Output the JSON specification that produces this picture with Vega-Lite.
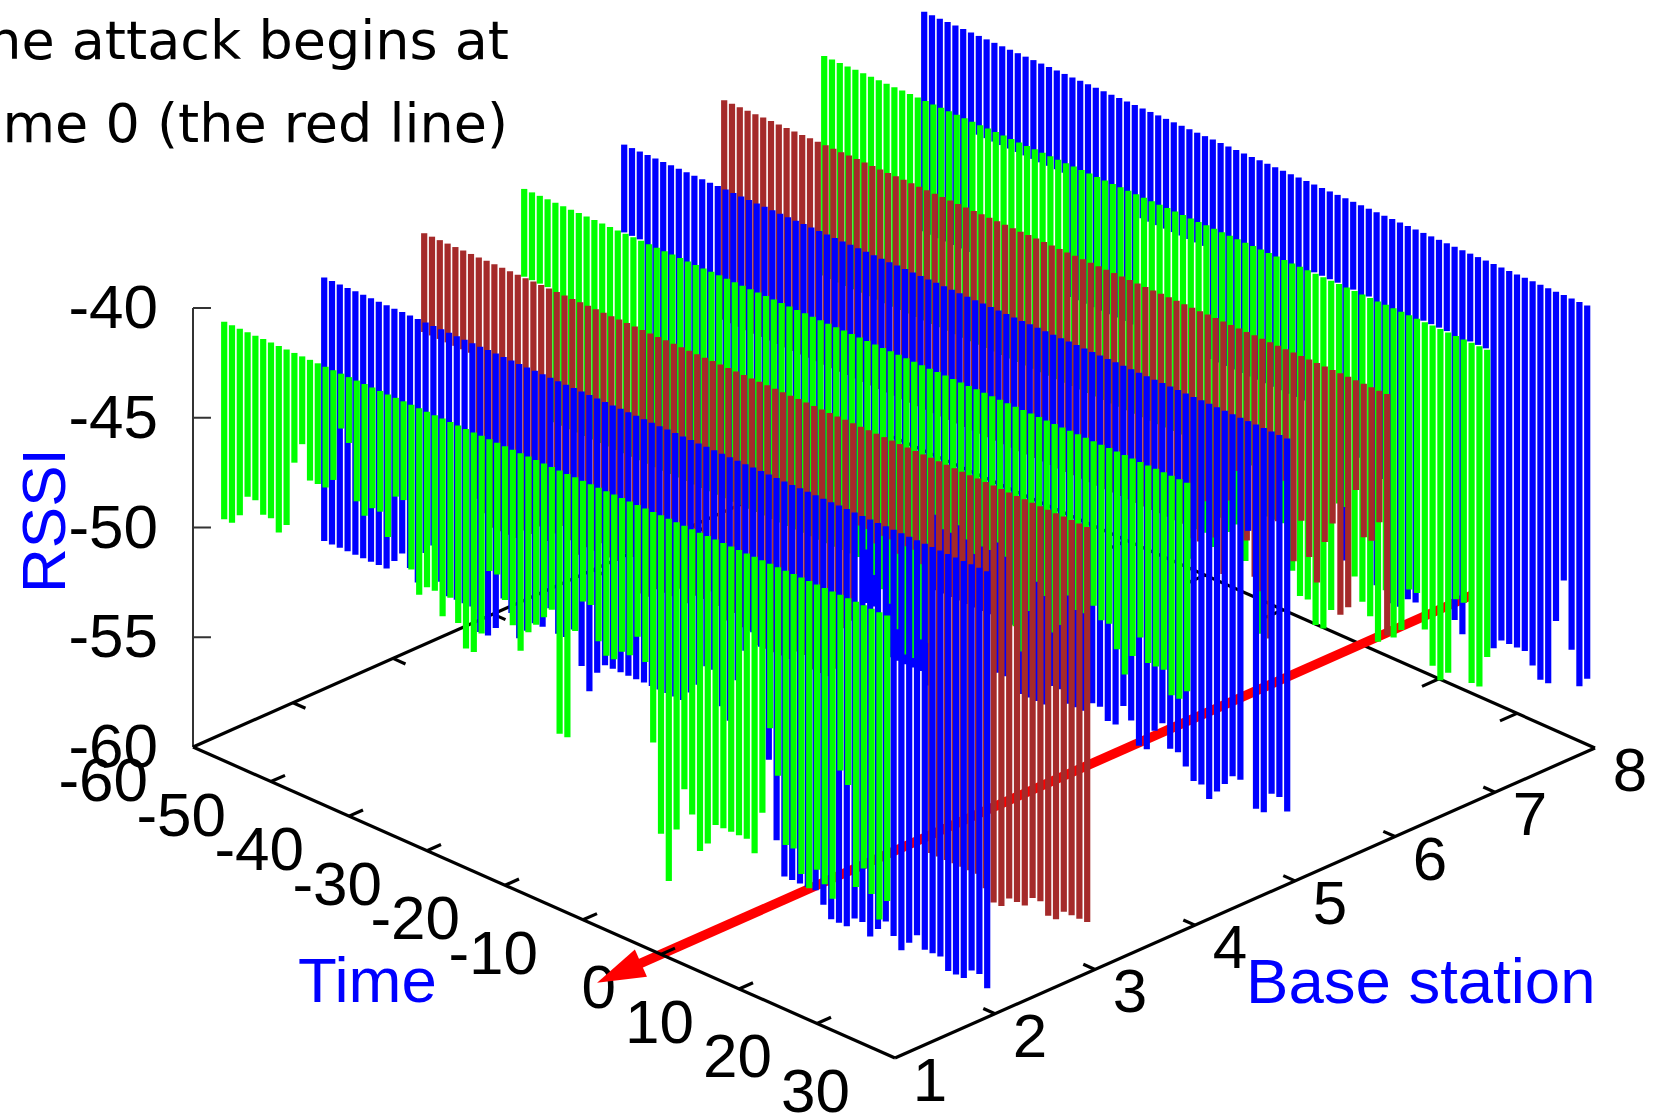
{"$schema":"https://vega.github.io/schema/vega-lite/v6.json","width":1654,"height":1116,"autosize":"none","padding":0,"background":"white","config":{"view":{"stroke":null}},
"datasets":{
"frame":[
{"part":"z","time":-60,"station":1,"rssi":-60,"time2":-60,"station2":1,"rssi2":-40},
{"part":"z","time":-60,"station":1,"rssi":-40,"time2":-58.85,"station2":1.09,"rssi2":-40},
{"part":"z","time":-60,"station":1,"rssi":-45,"time2":-58.85,"station2":1.09,"rssi2":-45},
{"part":"z","time":-60,"station":1,"rssi":-50,"time2":-58.85,"station2":1.09,"rssi2":-50},
{"part":"z","time":-60,"station":1,"rssi":-55,"time2":-58.85,"station2":1.09,"rssi2":-55},
{"part":"back","time":-60,"station":1,"rssi":-60,"time2":-60,"station2":8,"rssi2":-60},
{"part":"back","time":-60,"station":8,"rssi":-60,"time2":30,"station2":8,"rssi2":-60},
{"part":"backtick","time":-60,"station":2,"rssi":-60,"time2":-58.4,"station2":2,"rssi2":-60},
{"part":"backtick","time":-60,"station":3,"rssi":-60,"time2":-58.4,"station2":3,"rssi2":-60},
{"part":"backtick","time":-60,"station":4,"rssi":-60,"time2":-58.4,"station2":4,"rssi2":-60},
{"part":"backtick","time":-60,"station":5,"rssi":-60,"time2":-58.4,"station2":5,"rssi2":-60},
{"part":"backtick","time":-60,"station":6,"rssi":-60,"time2":-58.4,"station2":6,"rssi2":-60},
{"part":"backtick","time":-60,"station":7,"rssi":-60,"time2":-58.4,"station2":7,"rssi2":-60},
{"part":"backtick","time":-50,"station":8,"rssi":-60,"time2":-50,"station2":7.83,"rssi2":-60},
{"part":"backtick","time":-40,"station":8,"rssi":-60,"time2":-40,"station2":7.83,"rssi2":-60},
{"part":"backtick","time":-30,"station":8,"rssi":-60,"time2":-30,"station2":7.83,"rssi2":-60},
{"part":"backtick","time":-20,"station":8,"rssi":-60,"time2":-20,"station2":7.83,"rssi2":-60},
{"part":"backtick","time":-10,"station":8,"rssi":-60,"time2":-10,"station2":7.83,"rssi2":-60},
{"part":"backtick","time":0,"station":8,"rssi":-60,"time2":0,"station2":7.83,"rssi2":-60},
{"part":"backtick","time":10,"station":8,"rssi":-60,"time2":10,"station2":7.83,"rssi2":-60},
{"part":"backtick","time":20,"station":8,"rssi":-60,"time2":20,"station2":7.83,"rssi2":-60},
{"part":"front","time":-60,"station":1,"rssi":-60,"time2":30,"station2":1,"rssi2":-60},
{"part":"front","time":30,"station":1,"rssi":-60,"time2":30,"station2":8,"rssi2":-60},
{"part":"fronttick","time":-50,"station":1,"rssi":-60,"time2":-50,"station2":1.14,"rssi2":-60},
{"part":"fronttick","time":-40,"station":1,"rssi":-60,"time2":-40,"station2":1.14,"rssi2":-60},
{"part":"fronttick","time":-30,"station":1,"rssi":-60,"time2":-30,"station2":1.14,"rssi2":-60},
{"part":"fronttick","time":-20,"station":1,"rssi":-60,"time2":-20,"station2":1.14,"rssi2":-60},
{"part":"fronttick","time":-10,"station":1,"rssi":-60,"time2":-10,"station2":1.14,"rssi2":-60},
{"part":"fronttick","time":0,"station":1,"rssi":-60,"time2":0,"station2":1.14,"rssi2":-60},
{"part":"fronttick","time":10,"station":1,"rssi":-60,"time2":10,"station2":1.14,"rssi2":-60},
{"part":"fronttick","time":20,"station":1,"rssi":-60,"time2":20,"station2":1.14,"rssi2":-60},
{"part":"fronttick","time":30,"station":2,"rssi":-60,"time2":28.5,"station2":2,"rssi2":-60},
{"part":"fronttick","time":30,"station":3,"rssi":-60,"time2":28.5,"station2":3,"rssi2":-60},
{"part":"fronttick","time":30,"station":4,"rssi":-60,"time2":28.5,"station2":4,"rssi2":-60},
{"part":"fronttick","time":30,"station":5,"rssi":-60,"time2":28.5,"station2":5,"rssi2":-60},
{"part":"fronttick","time":30,"station":6,"rssi":-60,"time2":28.5,"station2":6,"rssi2":-60},
{"part":"fronttick","time":30,"station":7,"rssi":-60,"time2":28.5,"station2":7,"rssi2":-60}
],
"attack":[{"time":0,"station":0.58,"rssi":-60,"time2":0,"station2":9.1,"rssi2":-60}],
"ticks":[
{"axis":"z","label":"-40","time":-60,"station":1,"rssi":-40},{"axis":"z","label":"-45","time":-60,"station":1,"rssi":-45},{"axis":"z","label":"-50","time":-60,"station":1,"rssi":-50},{"axis":"z","label":"-55","time":-60,"station":1,"rssi":-55},{"axis":"z","label":"-60","time":-60,"station":1,"rssi":-60},
{"axis":"t","label":"-60","time":-60,"station":1,"rssi":-60},{"axis":"t","label":"-50","time":-50,"station":1,"rssi":-60},{"axis":"t","label":"-40","time":-40,"station":1,"rssi":-60},{"axis":"t","label":"-30","time":-30,"station":1,"rssi":-60},{"axis":"t","label":"-20","time":-20,"station":1,"rssi":-60},{"axis":"t","label":"-10","time":-10,"station":1,"rssi":-60},{"axis":"t","label":"0","time":0,"station":1,"rssi":-60},{"axis":"t","label":"10","time":10,"station":1,"rssi":-60},{"axis":"t","label":"20","time":20,"station":1,"rssi":-60},{"axis":"t","label":"30","time":30,"station":1,"rssi":-60},
{"axis":"s","label":"1","time":30,"station":1,"rssi":-60},{"axis":"s","label":"2","time":30,"station":2,"rssi":-60},{"axis":"s","label":"3","time":30,"station":3,"rssi":-60},{"axis":"s","label":"4","time":30,"station":4,"rssi":-60},{"axis":"s","label":"5","time":30,"station":5,"rssi":-60},{"axis":"s","label":"6","time":30,"station":6,"rssi":-60},{"axis":"s","label":"7","time":30,"station":7,"rssi":-60},{"axis":"s","label":"8","time":30,"station":8,"rssi":-60}
],
"titles":[{"label":"Time","time":-16.24,"station":-1.343,"rssi":-60},{"label":"Base station","time":44.67,"station":3.386,"rssi":-60}],
"ytitle":[{"label":"RSSI","time":-60,"station":-0.28,"rssi":-47.1}],
"notes":[{"label":"The attack begins at","time":-60,"station":4.16,"rssi":-35.03},{"label":"time 0 (the red line)","time":-60,"station":4.15,"rssi":-38.8}],
"bars":[
{"station":8,"time":-56,"rssi":-50},{"station":8,"time":-55,"rssi":-50},{"station":8,"time":-54,"rssi":-50},{"station":8,"time":-53,"rssi":-50},{"station":8,"time":-52,"rssi":-50},{"station":8,"time":-51,"rssi":-50},{"station":8,"time":-50,"rssi":-50},{"station":8,"time":-49,"rssi":-44.5},{"station":8,"time":-48,"rssi":-44.5},{"station":8,"time":-47,"rssi":-44.5},{"station":8,"time":-46,"rssi":-44.5},{"station":8,"time":-45,"rssi":-44.5},{"station":8,"time":-44,"rssi":-44.5},{"station":8,"time":-43,"rssi":-44.5},{"station":8,"time":-42,"rssi":-44.5},{"station":8,"time":-41,"rssi":-44.5},{"station":8,"time":-40,"rssi":-44.5},{"station":8,"time":-39,"rssi":-44.5},{"station":8,"time":-38,"rssi":-44.5},{"station":8,"time":-37,"rssi":-50},{"station":8,"time":-36,"rssi":-50},{"station":8,"time":-35,"rssi":-50},{"station":8,"time":-34,"rssi":-50},{"station":8,"time":-33,"rssi":-50},{"station":8,"time":-32,"rssi":-50},{"station":8,"time":-31,"rssi":-50},{"station":8,"time":-30,"rssi":-50},{"station":8,"time":-29,"rssi":-50},{"station":8,"time":-28,"rssi":-45},{"station":8,"time":-27,"rssi":-45},{"station":8,"time":-26,"rssi":-45},{"station":8,"time":-25,"rssi":-45},{"station":8,"time":-24,"rssi":-45},{"station":8,"time":-23,"rssi":-45},{"station":8,"time":-22,"rssi":-45},{"station":8,"time":-21,"rssi":-45},{"station":8,"time":-20,"rssi":-45},{"station":8,"time":-19,"rssi":-50},{"station":8,"time":-18,"rssi":-50},{"station":8,"time":-17,"rssi":-50},{"station":8,"time":-16,"rssi":-50},{"station":8,"time":-15,"rssi":-50},{"station":8,"time":-14,"rssi":-50},{"station":8,"time":-13,"rssi":-50},{"station":8,"time":-12,"rssi":-50},{"station":8,"time":-11,"rssi":-50},{"station":8,"time":-10,"rssi":-50},{"station":8,"time":-9,"rssi":-50},{"station":8,"time":-8,"rssi":-50},{"station":8,"time":-7,"rssi":-50},{"station":8,"time":-6,"rssi":-44},{"station":8,"time":-5,"rssi":-44},{"station":8,"time":-4,"rssi":-44},{"station":8,"time":-3,"rssi":-44},{"station":8,"time":-2,"rssi":-56.5},{"station":8,"time":-1,"rssi":-44},{"station":8,"time":0,"rssi":-51.5},{"station":8,"time":1,"rssi":-44},{"station":8,"time":2,"rssi":-57},{"station":8,"time":3,"rssi":-52},{"station":8,"time":4,"rssi":-57.5},{"station":8,"time":5,"rssi":-57.5},{"station":8,"time":6,"rssi":-57},{"station":8,"time":7,"rssi":-57},{"station":8,"time":8,"rssi":-44},{"station":8,"time":9,"rssi":-44},{"station":8,"time":10,"rssi":-44},{"station":8,"time":11,"rssi":-44},{"station":8,"time":12,"rssi":-57},{"station":8,"time":13,"rssi":-57.5},{"station":8,"time":14,"rssi":-44},{"station":8,"time":15,"rssi":-44},{"station":8,"time":16,"rssi":-44},{"station":8,"time":17,"rssi":-57.5},{"station":8,"time":18,"rssi":-57},{"station":8,"time":19,"rssi":-57},{"station":8,"time":20,"rssi":-57},{"station":8,"time":21,"rssi":-57},{"station":8,"time":22,"rssi":-57.5},{"station":8,"time":23,"rssi":-58},{"station":8,"time":24,"rssi":-58},{"station":8,"time":25,"rssi":-55},{"station":8,"time":26,"rssi":-53},{"station":8,"time":27,"rssi":-56},{"station":8,"time":28,"rssi":-57.5},{"station":8,"time":29,"rssi":-57},
{"station":7,"time":-56,"rssi":-50},{"station":7,"time":-55,"rssi":-50},{"station":7,"time":-54,"rssi":-50},{"station":7,"time":-53,"rssi":-50},{"station":7,"time":-52,"rssi":-50},{"station":7,"time":-51,"rssi":-50},{"station":7,"time":-50,"rssi":-50},{"station":7,"time":-49,"rssi":-50},{"station":7,"time":-48,"rssi":-50},{"station":7,"time":-47,"rssi":-50},{"station":7,"time":-46,"rssi":-50},{"station":7,"time":-45,"rssi":-50},{"station":7,"time":-44,"rssi":-50},{"station":7,"time":-43,"rssi":-50},{"station":7,"time":-42,"rssi":-50},{"station":7,"time":-41,"rssi":-50},{"station":7,"time":-40,"rssi":-50},{"station":7,"time":-39,"rssi":-50},{"station":7,"time":-38,"rssi":-50},{"station":7,"time":-37,"rssi":-50},{"station":7,"time":-36,"rssi":-50},{"station":7,"time":-35,"rssi":-50},{"station":7,"time":-34,"rssi":-50},{"station":7,"time":-33,"rssi":-50},{"station":7,"time":-32,"rssi":-50},{"station":7,"time":-31,"rssi":-50},{"station":7,"time":-30,"rssi":-50},{"station":7,"time":-29,"rssi":-50},{"station":7,"time":-28,"rssi":-50},{"station":7,"time":-27,"rssi":-50},{"station":7,"time":-26,"rssi":-50},{"station":7,"time":-25,"rssi":-50},{"station":7,"time":-24,"rssi":-50},{"station":7,"time":-23,"rssi":-50},{"station":7,"time":-22,"rssi":-50},{"station":7,"time":-21,"rssi":-50},{"station":7,"time":-20,"rssi":-50},{"station":7,"time":-19,"rssi":-50},{"station":7,"time":-18,"rssi":-50},{"station":7,"time":-17,"rssi":-50},{"station":7,"time":-16,"rssi":-50},{"station":7,"time":-15,"rssi":-50},{"station":7,"time":-14,"rssi":-50},{"station":7,"time":-13,"rssi":-50},{"station":7,"time":-12,"rssi":-50},{"station":7,"time":-11,"rssi":-50},{"station":7,"time":-10,"rssi":-50},{"station":7,"time":-9,"rssi":-55.5},{"station":7,"time":-8,"rssi":-54},{"station":7,"time":-7,"rssi":-54},{"station":7,"time":-6,"rssi":-54.5},{"station":7,"time":-5,"rssi":-53},{"station":7,"time":-4,"rssi":-53.5},{"station":7,"time":-3,"rssi":-53},{"station":7,"time":-2,"rssi":-54.5},{"station":7,"time":-1,"rssi":-50},{"station":7,"time":0,"rssi":-57.5},{"station":7,"time":1,"rssi":-52},{"station":7,"time":2,"rssi":-52},{"station":7,"time":3,"rssi":-52},{"station":7,"time":4,"rssi":-54},{"station":7,"time":5,"rssi":-55},{"station":7,"time":6,"rssi":-55},{"station":7,"time":7,"rssi":-56},{"station":7,"time":8,"rssi":-56},{"station":7,"time":9,"rssi":-55},{"station":7,"time":10,"rssi":-50},{"station":7,"time":11,"rssi":-50},{"station":7,"time":12,"rssi":-53},{"station":7,"time":13,"rssi":-54},{"station":7,"time":14,"rssi":-54.5},{"station":7,"time":15,"rssi":-55.5},{"station":7,"time":16,"rssi":-53},{"station":7,"time":17,"rssi":-55},{"station":7,"time":18,"rssi":-54.5},{"station":7,"time":19,"rssi":-52.5},{"station":7,"time":20,"rssi":-52.5},{"station":7,"time":21,"rssi":-54},{"station":7,"time":22,"rssi":-55.5},{"station":7,"time":23,"rssi":-56},{"station":7,"time":24,"rssi":-55.5},{"station":7,"time":25,"rssi":-52},{"station":7,"time":26,"rssi":-52},{"station":7,"time":27,"rssi":-55.5},{"station":7,"time":28,"rssi":-55.5},{"station":7,"time":29,"rssi":-54},
{"station":6,"time":-56,"rssi":-50},{"station":6,"time":-55,"rssi":-50},{"station":6,"time":-54,"rssi":-50},{"station":6,"time":-53,"rssi":-50},{"station":6,"time":-52,"rssi":-50},{"station":6,"time":-51,"rssi":-50},{"station":6,"time":-50,"rssi":-50},{"station":6,"time":-49,"rssi":-50},{"station":6,"time":-48,"rssi":-50},{"station":6,"time":-47,"rssi":-50},{"station":6,"time":-46,"rssi":-50},{"station":6,"time":-45,"rssi":-50},{"station":6,"time":-44,"rssi":-50},{"station":6,"time":-43,"rssi":-50},{"station":6,"time":-42,"rssi":-50},{"station":6,"time":-41,"rssi":-50},{"station":6,"time":-40,"rssi":-50},{"station":6,"time":-39,"rssi":-50},{"station":6,"time":-38,"rssi":-50},{"station":6,"time":-37,"rssi":-50},{"station":6,"time":-36,"rssi":-50},{"station":6,"time":-35,"rssi":-50},{"station":6,"time":-34,"rssi":-50},{"station":6,"time":-33,"rssi":-50},{"station":6,"time":-32,"rssi":-50},{"station":6,"time":-31,"rssi":-50},{"station":6,"time":-30,"rssi":-50},{"station":6,"time":-29,"rssi":-50},{"station":6,"time":-28,"rssi":-50},{"station":6,"time":-27,"rssi":-50},{"station":6,"time":-26,"rssi":-50},{"station":6,"time":-25,"rssi":-50},{"station":6,"time":-24,"rssi":-50},{"station":6,"time":-23,"rssi":-50},{"station":6,"time":-22,"rssi":-50},{"station":6,"time":-21,"rssi":-50},{"station":6,"time":-20,"rssi":-50},{"station":6,"time":-19,"rssi":-50},{"station":6,"time":-18,"rssi":-50},{"station":6,"time":-17,"rssi":-50},{"station":6,"time":-16,"rssi":-50},{"station":6,"time":-15,"rssi":-50},{"station":6,"time":-14,"rssi":-50},{"station":6,"time":-13,"rssi":-50},{"station":6,"time":-12,"rssi":-50},{"station":6,"time":-11,"rssi":-50},{"station":6,"time":-10,"rssi":-50},{"station":6,"time":-9,"rssi":-50},{"station":6,"time":-8,"rssi":-50},{"station":6,"time":-7,"rssi":-50},{"station":6,"time":-6,"rssi":-50},{"station":6,"time":-5,"rssi":-50},{"station":6,"time":-4,"rssi":-50},{"station":6,"time":-3,"rssi":-50},{"station":6,"time":-2,"rssi":-50},{"station":6,"time":-1,"rssi":-50},{"station":6,"time":0,"rssi":-50},{"station":6,"time":1,"rssi":-50},{"station":6,"time":2,"rssi":-50},{"station":6,"time":3,"rssi":-50},{"station":6,"time":4,"rssi":-50.5},{"station":6,"time":5,"rssi":-50.5},{"station":6,"time":6,"rssi":-48.5},{"station":6,"time":7,"rssi":-50},{"station":6,"time":8,"rssi":-51.5},{"station":6,"time":9,"rssi":-48},{"station":6,"time":10,"rssi":-46.5},{"station":6,"time":11,"rssi":-49.5},{"station":6,"time":12,"rssi":-51},{"station":6,"time":13,"rssi":-51.5},{"station":6,"time":14,"rssi":-53.5},{"station":6,"time":15,"rssi":-48},{"station":6,"time":16,"rssi":-46},{"station":6,"time":17,"rssi":-49.5},{"station":6,"time":18,"rssi":-47.5},{"station":6,"time":19,"rssi":-49},{"station":6,"time":20,"rssi":-50},{"station":6,"time":21,"rssi":-48},{"station":6,"time":22,"rssi":-47},{"station":6,"time":23,"rssi":-51},{"station":6,"time":24,"rssi":-50.5},{"station":6,"time":25,"rssi":-45},{"station":6,"time":26,"rssi":-47},{"station":6,"time":27,"rssi":-47},{"station":6,"time":28,"rssi":-46},{"station":6,"time":29,"rssi":-51},
{"station":5,"time":-56,"rssi":-44},{"station":5,"time":-55,"rssi":-44},{"station":5,"time":-54,"rssi":-44},{"station":5,"time":-53,"rssi":-54},{"station":5,"time":-52,"rssi":-54},{"station":5,"time":-51,"rssi":-54},{"station":5,"time":-50,"rssi":-54},{"station":5,"time":-49,"rssi":-54},{"station":5,"time":-48,"rssi":-54},{"station":5,"time":-47,"rssi":-54},{"station":5,"time":-46,"rssi":-54},{"station":5,"time":-45,"rssi":-54},{"station":5,"time":-44,"rssi":-54},{"station":5,"time":-43,"rssi":-54},{"station":5,"time":-42,"rssi":-54},{"station":5,"time":-41,"rssi":-54},{"station":5,"time":-40,"rssi":-54},{"station":5,"time":-39,"rssi":-54},{"station":5,"time":-38,"rssi":-54},{"station":5,"time":-37,"rssi":-54},{"station":5,"time":-36,"rssi":-54},{"station":5,"time":-35,"rssi":-54},{"station":5,"time":-34,"rssi":-54},{"station":5,"time":-33,"rssi":-54},{"station":5,"time":-32,"rssi":-54},{"station":5,"time":-31,"rssi":-54},{"station":5,"time":-30,"rssi":-54},{"station":5,"time":-29,"rssi":-54},{"station":5,"time":-28,"rssi":-54},{"station":5,"time":-27,"rssi":-54},{"station":5,"time":-26,"rssi":-54},{"station":5,"time":-25,"rssi":-56},{"station":5,"time":-24,"rssi":-56},{"station":5,"time":-23,"rssi":-54},{"station":5,"time":-22,"rssi":-58},{"station":5,"time":-21,"rssi":-58},{"station":5,"time":-20,"rssi":-58},{"station":5,"time":-19,"rssi":-58},{"station":5,"time":-18,"rssi":-58},{"station":5,"time":-17,"rssi":-58.5},{"station":5,"time":-16,"rssi":-54},{"station":5,"time":-15,"rssi":-54},{"station":5,"time":-14,"rssi":-54},{"station":5,"time":-13,"rssi":-54},{"station":5,"time":-12,"rssi":-54},{"station":5,"time":-11,"rssi":-54},{"station":5,"time":-10,"rssi":-54},{"station":5,"time":-9,"rssi":-54},{"station":5,"time":-8,"rssi":-56.5},{"station":5,"time":-7,"rssi":-56.5},{"station":5,"time":-6,"rssi":-54},{"station":5,"time":-5,"rssi":-57},{"station":5,"time":-4,"rssi":-57},{"station":5,"time":-3,"rssi":-57},{"station":5,"time":-2,"rssi":-57},{"station":5,"time":-1,"rssi":-56},{"station":5,"time":0,"rssi":-56},{"station":5,"time":1,"rssi":-56.5},{"station":5,"time":2,"rssi":-56.5},{"station":5,"time":3,"rssi":-56.5},{"station":5,"time":4,"rssi":-56},{"station":5,"time":5,"rssi":-56},{"station":5,"time":6,"rssi":-56.5},{"station":5,"time":7,"rssi":-56.5},{"station":5,"time":8,"rssi":-55.5},{"station":5,"time":9,"rssi":-56},{"station":5,"time":10,"rssi":-57},{"station":5,"time":11,"rssi":-57},{"station":5,"time":12,"rssi":-56},{"station":5,"time":13,"rssi":-55.5},{"station":5,"time":14,"rssi":-56.5},{"station":5,"time":15,"rssi":-56.5},{"station":5,"time":16,"rssi":-57},{"station":5,"time":17,"rssi":-57.5},{"station":5,"time":18,"rssi":-57.5},{"station":5,"time":19,"rssi":-58},{"station":5,"time":20,"rssi":-57.5},{"station":5,"time":21,"rssi":-57},{"station":5,"time":22,"rssi":-56.5},{"station":5,"time":23,"rssi":-56.5},{"station":5,"time":24,"rssi":-45},{"station":5,"time":25,"rssi":-57.5},{"station":5,"time":26,"rssi":-57.5},{"station":5,"time":27,"rssi":-56.5},{"station":5,"time":28,"rssi":-56.5},{"station":5,"time":29,"rssi":-57},
{"station":4,"time":-56,"rssi":-44},{"station":4,"time":-55,"rssi":-44},{"station":4,"time":-54,"rssi":-44},{"station":4,"time":-53,"rssi":-44},{"station":4,"time":-52,"rssi":-50},{"station":4,"time":-51,"rssi":-50},{"station":4,"time":-50,"rssi":-50},{"station":4,"time":-49,"rssi":-50},{"station":4,"time":-48,"rssi":-50},{"station":4,"time":-47,"rssi":-50},{"station":4,"time":-46,"rssi":-50},{"station":4,"time":-45,"rssi":-50},{"station":4,"time":-44,"rssi":-50},{"station":4,"time":-43,"rssi":-50},{"station":4,"time":-42,"rssi":-50},{"station":4,"time":-41,"rssi":-50},{"station":4,"time":-40,"rssi":-50},{"station":4,"time":-39,"rssi":-50},{"station":4,"time":-38,"rssi":-50},{"station":4,"time":-37,"rssi":-50},{"station":4,"time":-36,"rssi":-50},{"station":4,"time":-35,"rssi":-50},{"station":4,"time":-34,"rssi":-50},{"station":4,"time":-33,"rssi":-50},{"station":4,"time":-32,"rssi":-50},{"station":4,"time":-31,"rssi":-50},{"station":4,"time":-30,"rssi":-50},{"station":4,"time":-29,"rssi":-50},{"station":4,"time":-28,"rssi":-50},{"station":4,"time":-27,"rssi":-50},{"station":4,"time":-26,"rssi":-50},{"station":4,"time":-25,"rssi":-50},{"station":4,"time":-24,"rssi":-50},{"station":4,"time":-23,"rssi":-50},{"station":4,"time":-22,"rssi":-50},{"station":4,"time":-21,"rssi":-50},{"station":4,"time":-20,"rssi":-50},{"station":4,"time":-19,"rssi":-50},{"station":4,"time":-18,"rssi":-50},{"station":4,"time":-17,"rssi":-50},{"station":4,"time":-16,"rssi":-50},{"station":4,"time":-15,"rssi":-50},{"station":4,"time":-14,"rssi":-50},{"station":4,"time":-13,"rssi":-50},{"station":4,"time":-12,"rssi":-49.5},{"station":4,"time":-11,"rssi":-50.5},{"station":4,"time":-10,"rssi":-51},{"station":4,"time":-9,"rssi":-51.5},{"station":4,"time":-8,"rssi":-52.5},{"station":4,"time":-7,"rssi":-53.5},{"station":4,"time":-6,"rssi":-53.5},{"station":4,"time":-5,"rssi":-52.5},{"station":4,"time":-4,"rssi":-52.5},{"station":4,"time":-3,"rssi":-46.5},{"station":4,"time":-2,"rssi":-47},{"station":4,"time":-1,"rssi":-47},{"station":4,"time":0,"rssi":-46.5},{"station":4,"time":1,"rssi":-47},{"station":4,"time":2,"rssi":-47.5},{"station":4,"time":3,"rssi":-47},{"station":4,"time":4,"rssi":-47},{"station":4,"time":5,"rssi":-46.5},{"station":4,"time":6,"rssi":-47},{"station":4,"time":7,"rssi":-50},{"station":4,"time":8,"rssi":-51},{"station":4,"time":9,"rssi":-49},{"station":4,"time":10,"rssi":-47.5},{"station":4,"time":11,"rssi":-48},{"station":4,"time":12,"rssi":-49.5},{"station":4,"time":13,"rssi":-49},{"station":4,"time":14,"rssi":-47.5},{"station":4,"time":15,"rssi":-48},{"station":4,"time":16,"rssi":-48},{"station":4,"time":17,"rssi":-47.5},{"station":4,"time":18,"rssi":-48},{"station":4,"time":19,"rssi":-48},{"station":4,"time":20,"rssi":-49},{"station":4,"time":21,"rssi":-50},{"station":4,"time":22,"rssi":-49},{"station":4,"time":23,"rssi":-48},{"station":4,"time":24,"rssi":-49},{"station":4,"time":25,"rssi":-49},{"station":4,"time":26,"rssi":-49},{"station":4,"time":27,"rssi":-50},{"station":4,"time":28,"rssi":-50},{"station":4,"time":29,"rssi":-49.5},
{"station":3,"time":-56,"rssi":-44.5},{"station":3,"time":-55,"rssi":-44.5},{"station":3,"time":-54,"rssi":-44.5},{"station":3,"time":-53,"rssi":-44.5},{"station":3,"time":-52,"rssi":-44.5},{"station":3,"time":-51,"rssi":-44.5},{"station":3,"time":-50,"rssi":-44.5},{"station":3,"time":-49,"rssi":-51},{"station":3,"time":-48,"rssi":-51.5},{"station":3,"time":-47,"rssi":-52},{"station":3,"time":-46,"rssi":-52},{"station":3,"time":-45,"rssi":-52},{"station":3,"time":-44,"rssi":-52},{"station":3,"time":-43,"rssi":-51.5},{"station":3,"time":-42,"rssi":-51.5},{"station":3,"time":-41,"rssi":-51},{"station":3,"time":-40,"rssi":-51.5},{"station":3,"time":-39,"rssi":-51},{"station":3,"time":-38,"rssi":-50.5},{"station":3,"time":-37,"rssi":-51},{"station":3,"time":-36,"rssi":-51.5},{"station":3,"time":-35,"rssi":-51},{"station":3,"time":-34,"rssi":-51},{"station":3,"time":-33,"rssi":-50.5},{"station":3,"time":-32,"rssi":-51},{"station":3,"time":-31,"rssi":-51},{"station":3,"time":-30,"rssi":-50.5},{"station":3,"time":-29,"rssi":-50.5},{"station":3,"time":-28,"rssi":-52},{"station":3,"time":-27,"rssi":-52},{"station":3,"time":-26,"rssi":-51.5},{"station":3,"time":-25,"rssi":-51.5},{"station":3,"time":-24,"rssi":-51.5},{"station":3,"time":-23,"rssi":-51},{"station":3,"time":-22,"rssi":-51.5},{"station":3,"time":-21,"rssi":-51},{"station":3,"time":-20,"rssi":-51},{"station":3,"time":-19,"rssi":-50.5},{"station":3,"time":-18,"rssi":-51},{"station":3,"time":-17,"rssi":-51.5},{"station":3,"time":-16,"rssi":-51},{"station":3,"time":-15,"rssi":-51.5},{"station":3,"time":-14,"rssi":-51.5},{"station":3,"time":-13,"rssi":-52},{"station":3,"time":-12,"rssi":-52},{"station":3,"time":-11,"rssi":-52},{"station":3,"time":-10,"rssi":-52},{"station":3,"time":-9,"rssi":-52},{"station":3,"time":-8,"rssi":-51.5},{"station":3,"time":-7,"rssi":-51.5},{"station":3,"time":-6,"rssi":-52},{"station":3,"time":-5,"rssi":-52},{"station":3,"time":-4,"rssi":-52},{"station":3,"time":-3,"rssi":-51.5},{"station":3,"time":-2,"rssi":-49.5},{"station":3,"time":-1,"rssi":-49},{"station":3,"time":0,"rssi":-44.5},{"station":3,"time":1,"rssi":-44.5},{"station":3,"time":2,"rssi":-45},{"station":3,"time":3,"rssi":-44.5},{"station":3,"time":4,"rssi":-44.5},{"station":3,"time":5,"rssi":-45},{"station":3,"time":6,"rssi":-44.5},{"station":3,"time":7,"rssi":-44.5},{"station":3,"time":8,"rssi":-45},{"station":3,"time":9,"rssi":-58},{"station":3,"time":10,"rssi":-58},{"station":3,"time":11,"rssi":-58},{"station":3,"time":12,"rssi":-58},{"station":3,"time":13,"rssi":-58},{"station":3,"time":14,"rssi":-58},{"station":3,"time":15,"rssi":-58},{"station":3,"time":16,"rssi":-58.5},{"station":3,"time":17,"rssi":-59},{"station":3,"time":18,"rssi":-59},{"station":3,"time":19,"rssi":-58.5},{"station":3,"time":20,"rssi":-58.5},{"station":3,"time":21,"rssi":-58.5},{"station":3,"time":22,"rssi":-58},{"station":3,"time":23,"rssi":-58},{"station":3,"time":24,"rssi":-58.5},{"station":3,"time":25,"rssi":-58.5},{"station":3,"time":26,"rssi":-58},{"station":3,"time":27,"rssi":-58},{"station":3,"time":28,"rssi":-58},{"station":3,"time":29,"rssi":-58},
{"station":2,"time":-56,"rssi":-52},{"station":2,"time":-55,"rssi":-52},{"station":2,"time":-54,"rssi":-52},{"station":2,"time":-53,"rssi":-52},{"station":2,"time":-52,"rssi":-52},{"station":2,"time":-51,"rssi":-52},{"station":2,"time":-50,"rssi":-52},{"station":2,"time":-49,"rssi":-52},{"station":2,"time":-48,"rssi":-52},{"station":2,"time":-47,"rssi":-51.5},{"station":2,"time":-46,"rssi":-51},{"station":2,"time":-45,"rssi":-51.5},{"station":2,"time":-44,"rssi":-52},{"station":2,"time":-43,"rssi":-50.5},{"station":2,"time":-42,"rssi":-50},{"station":2,"time":-41,"rssi":-51.5},{"station":2,"time":-40,"rssi":-52},{"station":2,"time":-39,"rssi":-52},{"station":2,"time":-38,"rssi":-52},{"station":2,"time":-37,"rssi":-52},{"station":2,"time":-36,"rssi":-53},{"station":2,"time":-35,"rssi":-53},{"station":2,"time":-34,"rssi":-52.5},{"station":2,"time":-33,"rssi":-51},{"station":2,"time":-32,"rssi":-51.5},{"station":2,"time":-31,"rssi":-52.5},{"station":2,"time":-30,"rssi":-52},{"station":2,"time":-29,"rssi":-51.5},{"station":2,"time":-28,"rssi":-51.5},{"station":2,"time":-27,"rssi":-50.5},{"station":2,"time":-26,"rssi":-51.5},{"station":2,"time":-25,"rssi":-51.5},{"station":2,"time":-24,"rssi":-51},{"station":2,"time":-23,"rssi":-52.5},{"station":2,"time":-22,"rssi":-53.5},{"station":2,"time":-21,"rssi":-52.5},{"station":2,"time":-20,"rssi":-52},{"station":2,"time":-19,"rssi":-52},{"station":2,"time":-18,"rssi":-52},{"station":2,"time":-17,"rssi":-52},{"station":2,"time":-16,"rssi":-52},{"station":2,"time":-15,"rssi":-52},{"station":2,"time":-14,"rssi":-52},{"station":2,"time":-13,"rssi":-52},{"station":2,"time":-12,"rssi":-52},{"station":2,"time":-11,"rssi":-52},{"station":2,"time":-10,"rssi":-52},{"station":2,"time":-9,"rssi":-51.5},{"station":2,"time":-8,"rssi":-51},{"station":2,"time":-7,"rssi":-50},{"station":2,"time":-6,"rssi":-50},{"station":2,"time":-5,"rssi":-51.5},{"station":2,"time":-4,"rssi":-52},{"station":2,"time":-3,"rssi":-50},{"station":2,"time":-2,"rssi":-48.5},{"station":2,"time":-1,"rssi":-47.5},{"station":2,"time":0,"rssi":-48},{"station":2,"time":1,"rssi":-53},{"station":2,"time":2,"rssi":-56.5},{"station":2,"time":3,"rssi":-58},{"station":2,"time":4,"rssi":-58},{"station":2,"time":5,"rssi":-58},{"station":2,"time":6,"rssi":-58},{"station":2,"time":7,"rssi":-58},{"station":2,"time":8,"rssi":-58.5},{"station":2,"time":9,"rssi":-59},{"station":2,"time":10,"rssi":-59},{"station":2,"time":11,"rssi":-59},{"station":2,"time":12,"rssi":-58.5},{"station":2,"time":13,"rssi":-58.5},{"station":2,"time":14,"rssi":-59},{"station":2,"time":15,"rssi":-58.5},{"station":2,"time":16,"rssi":-58},{"station":2,"time":17,"rssi":-58.5},{"station":2,"time":18,"rssi":-59},{"station":2,"time":19,"rssi":-58.5},{"station":2,"time":20,"rssi":-58},{"station":2,"time":21,"rssi":-58.5},{"station":2,"time":22,"rssi":-58.5},{"station":2,"time":23,"rssi":-58.5},{"station":2,"time":24,"rssi":-59},{"station":2,"time":25,"rssi":-59},{"station":2,"time":26,"rssi":-59},{"station":2,"time":27,"rssi":-58.5},{"station":2,"time":28,"rssi":-58.5},{"station":2,"time":29,"rssi":-59},
{"station":1,"time":-56,"rssi":-49},{"station":1,"time":-55,"rssi":-49},{"station":1,"time":-54,"rssi":-48.5},{"station":1,"time":-53,"rssi":-47.5},{"station":1,"time":-52,"rssi":-47.5},{"station":1,"time":-51,"rssi":-48},{"station":1,"time":-50,"rssi":-48},{"station":1,"time":-49,"rssi":-48.5},{"station":1,"time":-48,"rssi":-48},{"station":1,"time":-47,"rssi":-45},{"station":1,"time":-46,"rssi":-44},{"station":1,"time":-45,"rssi":-45.5},{"station":1,"time":-44,"rssi":-45.5},{"station":1,"time":-43,"rssi":-45.5},{"station":1,"time":-42,"rssi":-45},{"station":1,"time":-41,"rssi":-42.5},{"station":1,"time":-40,"rssi":-43},{"station":1,"time":-39,"rssi":-45.5},{"station":1,"time":-38,"rssi":-46},{"station":1,"time":-37,"rssi":-45.5},{"station":1,"time":-36,"rssi":-45.5},{"station":1,"time":-35,"rssi":-46.5},{"station":1,"time":-34,"rssi":-44.5},{"station":1,"time":-33,"rssi":-44.5},{"station":1,"time":-32,"rssi":-47.5},{"station":1,"time":-31,"rssi":-48.5},{"station":1,"time":-30,"rssi":-48},{"station":1,"time":-29,"rssi":-48},{"station":1,"time":-28,"rssi":-49},{"station":1,"time":-27,"rssi":-48},{"station":1,"time":-26,"rssi":-49},{"station":1,"time":-25,"rssi":-50},{"station":1,"time":-24,"rssi":-50},{"station":1,"time":-23,"rssi":-49},{"station":1,"time":-22,"rssi":-46},{"station":1,"time":-21,"rssi":-46},{"station":1,"time":-20,"rssi":-47},{"station":1,"time":-19,"rssi":-48},{"station":1,"time":-18,"rssi":-49},{"station":1,"time":-17,"rssi":-48},{"station":1,"time":-16,"rssi":-47.5},{"station":1,"time":-15,"rssi":-47},{"station":1,"time":-14,"rssi":-46.5},{"station":1,"time":-13,"rssi":-52},{"station":1,"time":-12,"rssi":-52},{"station":1,"time":-11,"rssi":-47},{"station":1,"time":-10,"rssi":-45.5},{"station":1,"time":-9,"rssi":-45.5},{"station":1,"time":-8,"rssi":-47},{"station":1,"time":-7,"rssi":-47.5},{"station":1,"time":-6,"rssi":-47.5},{"station":1,"time":-5,"rssi":-47},{"station":1,"time":-4,"rssi":-47},{"station":1,"time":-3,"rssi":-46},{"station":1,"time":-2,"rssi":-47},{"station":1,"time":-1,"rssi":-50.5},{"station":1,"time":0,"rssi":-54.5},{"station":1,"time":1,"rssi":-56.5},{"station":1,"time":2,"rssi":-54},{"station":1,"time":3,"rssi":-52},{"station":1,"time":4,"rssi":-53},{"station":1,"time":5,"rssi":-54.5},{"station":1,"time":6,"rssi":-54},{"station":1,"time":7,"rssi":-53},{"station":1,"time":8,"rssi":-53},{"station":1,"time":9,"rssi":-53},{"station":1,"time":10,"rssi":-53},{"station":1,"time":11,"rssi":-53},{"station":1,"time":12,"rssi":-53.5},{"station":1,"time":13,"rssi":-51.5},{"station":1,"time":14,"rssi":-47.5},{"station":1,"time":15,"rssi":-49.5},{"station":1,"time":16,"rssi":-52.5},{"station":1,"time":17,"rssi":-52.5},{"station":1,"time":18,"rssi":-53.5},{"station":1,"time":19,"rssi":-54},{"station":1,"time":20,"rssi":-53},{"station":1,"time":21,"rssi":-53.5},{"station":1,"time":22,"rssi":-54},{"station":1,"time":23,"rssi":-48},{"station":1,"time":24,"rssi":-48.5},{"station":1,"time":25,"rssi":-53},{"station":1,"time":26,"rssi":-52},{"station":1,"time":27,"rssi":-53},{"station":1,"time":28,"rssi":-54},{"station":1,"time":29,"rssi":-53}
]},
"transform":[],
"layer":[
{"data":{"name":"ticks"},"transform":[{"filter":"datum.axis==='z'"},{"calculate":"193+7.8*(datum.time+60)+100*(datum.station-1)","as":"px"},{"calculate":"747+3.456*(datum.time+60)-44.3*(datum.station-1)-21.95*(datum.rssi+60)","as":"py"}],
"mark":{"type":"text","font":"Liberation Sans","fontSize":62,"align":"right","baseline":"middle","dx":-35,"dy":1,"color":"black"},
"encoding":{"x":{"field":"px","type":"quantitative","scale":{"domain":[0,1654],"range":[0,1654],"nice":false,"zero":false},"axis":null},"y":{"field":"py","type":"quantitative","scale":{"domain":[0,1116],"range":[0,1116],"nice":false,"zero":false},"axis":null},"text":{"field":"label"}}},
{"data":{"name":"ticks"},"transform":[{"filter":"datum.axis==='t'"},{"calculate":"193+7.8*(datum.time+60)+100*(datum.station-1)","as":"px"},{"calculate":"747+3.456*(datum.time+60)-44.3*(datum.station-1)-21.95*(datum.rssi+60)","as":"py"}],
"mark":{"type":"text","font":"Liberation Sans","fontSize":62,"align":"right","baseline":"middle","dx":-45,"dy":35,"color":"black"},
"encoding":{"x":{"field":"px","type":"quantitative","axis":null},"y":{"field":"py","type":"quantitative","axis":null},"text":{"field":"label"}}},
{"data":{"name":"ticks"},"transform":[{"filter":"datum.axis==='s'"},{"calculate":"193+7.8*(datum.time+60)+100*(datum.station-1)","as":"px"},{"calculate":"747+3.456*(datum.time+60)-44.3*(datum.station-1)-21.95*(datum.rssi+60)","as":"py"}],
"mark":{"type":"text","font":"Liberation Sans","fontSize":62,"align":"center","baseline":"middle","dx":35,"dy":24,"color":"black"},
"encoding":{"x":{"field":"px","type":"quantitative","axis":null},"y":{"field":"py","type":"quantitative","axis":null},"text":{"field":"label"}}},
{"data":{"name":"titles"},"transform":[{"calculate":"193+7.8*(datum.time+60)+100*(datum.station-1)","as":"px"},{"calculate":"747+3.456*(datum.time+60)-44.3*(datum.station-1)-21.95*(datum.rssi+60)","as":"py"}],
"mark":{"type":"text","font":"Liberation Sans","fontSize":63.5,"align":"left","baseline":"alphabetic","dx":-2,"color":"#0000ff"},
"encoding":{"x":{"field":"px","type":"quantitative","axis":null},"y":{"field":"py","type":"quantitative","axis":null},"text":{"field":"label"}}},
{"data":{"name":"ytitle"},"transform":[{"calculate":"193+7.8*(datum.time+60)+100*(datum.station-1)","as":"px"},{"calculate":"747+3.456*(datum.time+60)-44.3*(datum.station-1)-21.95*(datum.rssi+60)","as":"py"}],
"mark":{"type":"text","font":"Liberation Sans","fontSize":62,"align":"center","baseline":"alphabetic","angle":270,"color":"#0000ff"},
"encoding":{"x":{"field":"px","type":"quantitative","axis":null},"y":{"field":"py","type":"quantitative","axis":null},"text":{"field":"label"}}},
{"data":{"name":"notes"},"transform":[{"calculate":"193+7.8*(datum.time+60)+100*(datum.station-1)","as":"px"},{"calculate":"747+3.456*(datum.time+60)-44.3*(datum.station-1)-21.95*(datum.rssi+60)","as":"py"}],
"mark":{"type":"text","font":"DejaVu Sans","fontSize":54,"align":"right","baseline":"alphabetic","color":"black"},
"encoding":{"x":{"field":"px","type":"quantitative","axis":null},"y":{"field":"py","type":"quantitative","axis":null},"text":{"field":"label"}}},
{"data":{"name":"frame"},"transform":[{"filter":"datum.part==='z'"},{"calculate":"193+7.8*(datum.time+60)+100*(datum.station-1)","as":"px"},{"calculate":"747+3.456*(datum.time+60)-44.3*(datum.station-1)-21.95*(datum.rssi+60)","as":"py"},{"calculate":"193+7.8*(datum.time2+60)+100*(datum.station2-1)","as":"px2"},{"calculate":"747+3.456*(datum.time2+60)-44.3*(datum.station2-1)-21.95*(datum.rssi2+60)","as":"py2"}],
"mark":{"type":"rule","strokeWidth":2,"color":"#333333"},
"encoding":{"x":{"field":"px","type":"quantitative","axis":null},"y":{"field":"py","type":"quantitative","axis":null},"x2":{"field":"px2"},"y2":{"field":"py2"}}},
{"data":{"name":"frame"},"transform":[{"filter":"datum.part==='back'||datum.part==='backtick'"},{"calculate":"193+7.8*(datum.time+60)+100*(datum.station-1)","as":"px"},{"calculate":"747+3.456*(datum.time+60)-44.3*(datum.station-1)-21.95*(datum.rssi+60)","as":"py"},{"calculate":"193+7.8*(datum.time2+60)+100*(datum.station2-1)","as":"px2"},{"calculate":"747+3.456*(datum.time2+60)-44.3*(datum.station2-1)-21.95*(datum.rssi2+60)","as":"py2"}],
"mark":{"type":"rule","strokeWidth":3.2,"color":"black"},
"encoding":{"x":{"field":"px","type":"quantitative","axis":null},"y":{"field":"py","type":"quantitative","axis":null},"x2":{"field":"px2"},"y2":{"field":"py2"}}},
{"data":{"name":"attack"},"transform":[{"calculate":"193+7.8*(datum.time+60)+100*(datum.station-1)","as":"px"},{"calculate":"747+3.456*(datum.time+60)-44.3*(datum.station-1)-21.95*(datum.rssi+60)","as":"py"},{"calculate":"193+7.8*(datum.time2+60)+100*(datum.station2-1)","as":"px2"},{"calculate":"747+3.456*(datum.time2+60)-44.3*(datum.station2-1)-21.95*(datum.rssi2+60)","as":"py2"}],
"mark":{"type":"rule","strokeWidth":9.5,"color":"#ff0000"},
"encoding":{"x":{"field":"px","type":"quantitative","axis":null},"y":{"field":"py","type":"quantitative","axis":null},"x2":{"field":"px2"},"y2":{"field":"py2"}}},
{"data":{"name":"attack"},"transform":[{"calculate":"193+7.8*(datum.time+60)+100*(datum.station-1)","as":"px"},{"calculate":"747+3.456*(datum.time+60)-44.3*(datum.station-1)-21.95*(datum.rssi+60)","as":"py"}],
"mark":{"type":"point","shape":"M -1 0 L 1 -0.62 L 1 0.62 Z","filled":true,"size":2304,"angle":336,"color":"#ff0000","opacity":1},
"encoding":{"x":{"field":"px","type":"quantitative","axis":null},"y":{"field":"py","type":"quantitative","axis":null}}},
{"data":{"name":"frame"},"transform":[{"filter":"datum.part==='front'||datum.part==='fronttick'"},{"calculate":"193+7.8*(datum.time+60)+100*(datum.station-1)","as":"px"},{"calculate":"747+3.456*(datum.time+60)-44.3*(datum.station-1)-21.95*(datum.rssi+60)","as":"py"},{"calculate":"193+7.8*(datum.time2+60)+100*(datum.station2-1)","as":"px2"},{"calculate":"747+3.456*(datum.time2+60)-44.3*(datum.station2-1)-21.95*(datum.rssi2+60)","as":"py2"}],
"mark":{"type":"rule","strokeWidth":3.2,"color":"black"},
"encoding":{"x":{"field":"px","type":"quantitative","axis":null},"y":{"field":"py","type":"quantitative","axis":null},"x2":{"field":"px2"},"y2":{"field":"py2"}}},
{"data":{"name":"bars"},"transform":[{"calculate":"193+7.8*(datum.time+60)+100*(datum.station-1)","as":"px"},{"calculate":"747+3.456*(datum.time+60)-44.3*(datum.station-1)-21.95*(datum.rssi+60)","as":"py"},{"calculate":"747+3.456*(datum.time+60)-44.3*(datum.station-1)-21.95*20","as":"ptop"}],
"mark":{"type":"rule","strokeWidth":6.2,"opacity":1},
"encoding":{"x":{"field":"px","type":"quantitative","axis":null},"y":{"field":"ptop","type":"quantitative","axis":null},"y2":{"field":"py"},"color":{"field":"station","type":"nominal","legend":null,"scale":{"domain":[1,2,3,4,5,6,7,8],"range":["#00ff00","#0000ff","#a52a2a","#00ff00","#0000ff","#a52a2a","#00ff00","#0000ff"]}}}}
]}
